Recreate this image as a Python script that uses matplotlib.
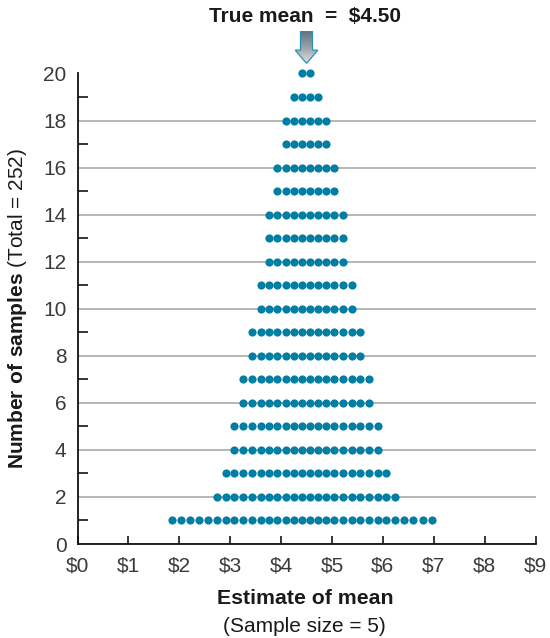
import matplotlib
matplotlib.use('Agg')
import matplotlib.pyplot as plt
import numpy as np
from matplotlib.patches import Polygon
from matplotlib.colors import LinearSegmentedColormap

# ---------------- data ----------------
col_x = [1.86, 2.04, 2.22, 2.39, 2.57, 2.75, 2.91, 3.07, 3.25, 3.43, 3.60,
         3.76, 3.93, 4.09, 4.26, 4.41, 4.56, 4.73, 4.89, 5.05, 5.22, 5.39,
         5.56, 5.73, 5.90, 6.07, 6.24, 6.41, 6.60, 6.79, 6.96]
col_counts = [1, 1, 1, 1, 1, 2, 3, 5, 7, 9, 11, 14, 16, 18, 19, 20, 20, 19,
              18, 16, 14, 11, 9, 7, 5, 3, 2, 1, 1, 1, 1]
x_ticks = [0, 1, 2, 3, 4, 5, 6, 7, 8, 9]
x_labels = ['\\$0', '\\$1', '\\$2', '\\$3', '\\$4', '\\$5', '\\$6', '\\$7', '\\$8', '\\$9']
y_ticks = [0, 2, 4, 6, 8, 10, 12, 14, 16, 18, 20]
y_minor = [1, 3, 5, 7, 9, 11, 13, 15, 17, 19]
true_mean = 4.5

dot_color = '#007ea3'

plt.rcParams['font.family'] = ['Liberation Sans', 'DejaVu Sans']
plt.rcParams['mathtext.fontset'] = 'custom'
plt.rcParams['mathtext.rm'] = 'Liberation Sans'
plt.rcParams['mathtext.bf'] = 'Liberation Sans:bold'

W, H = 550, 638
fig = plt.figure(figsize=(W / 100, H / 100), dpi=100)
L, R, T, B = 77.5, 535.5, 73.5, 544.0
ax = fig.add_axes([L / W, 1 - B / H, (R - L) / W, (B - T) / H])

xs, ys = [], []
for x, c in zip(col_x, col_counts):
    for k in range(1, c + 1):
        xs.append(x)
        ys.append(k)
ax.plot(xs, ys, 'o', ms=5.9, color=dot_color, mec='none', clip_on=False, zorder=3)

ax.set_xlim(0, 9)
ax.set_ylim(0, 20)
ax.set_xticks(x_ticks)
ax.set_xticklabels(x_labels)
ax.set_yticks(y_ticks)
ax.set_yticks(y_minor, minor=True)
ax.tick_params(axis='x', direction='in', length=6, width=1.1, pad=9,
               labelsize=15, labelcolor='#3a3a3a')
ax.tick_params(axis='y', which='major', length=0, pad=8, labelsize=15,
               labelcolor='#3a3a3a')
ax.tick_params(axis='y', which='minor', direction='in', length=7, width=1.1)
ax.grid(axis='y', which='major', color='#a9a9a9', lw=1.2)
ax.set_axisbelow(True)
for s in ['top', 'right']:
    ax.spines[s].set_visible(False)
for s in ['left', 'bottom']:
    ax.spines[s].set_linewidth(1.3)
    ax.spines[s].set_color('#111111')

# axis labels
axc = 1 - (T + B) / 2 / H
fig.text(18 / W, axc, r'$\bf{Number\ of\ samples}$ (Total = 252)', rotation=90,
         ha='center', va='center', fontsize=15, color='#1a1a1a')
fig.text((L + R) / 2 / W - 0.003, 1 - 599 / H, 'Estimate of mean', fontweight='bold',
         ha='center', va='center', fontsize=15.3, color='#1a1a1a')
fig.text((L + R) / 2 / W - 0.003, 1 - 626 / H, '(Sample size = 5)',
         ha='center', va='center', fontsize=15, color='#1a1a1a')

# title
fig.text(305 / W, 1 - 17 / H, 'True mean  =  \\$4.50', fontweight='bold',
         ha='center', va='center', fontsize=15, color='#1a1a1a')

# arrow pointing at the true mean
fig.canvas.draw()
px = ax.transData.transform((true_mean, 0))[0]
aw, ah = 24, 33  # px
aax = fig.add_axes([(px - aw / 2) / W, 1 - 64 / H, aw / W, ah / H])
aax.set_xlim(-1, 1)
aax.set_ylim(0, 1)
aax.axis('off')
poly = [(-0.5, 1.0), (0.5, 1.0), (0.5, 0.42), (0.95, 0.42), (0.0, 0.02),
        (-0.95, 0.42), (-0.5, 0.42)]
cmap = LinearSegmentedColormap.from_list('g', ['#e2e4e6', '#9aa3a8', '#5d7582'])
grad = np.linspace(1, 0, 100).reshape(-1, 1)
im = aax.imshow(grad, extent=(-1, 1, 0, 1), aspect='auto', cmap=cmap, origin='upper')
patch = Polygon(poly, closed=True, facecolor='none', edgecolor='#2f8fb0', lw=0.9)
aax.add_patch(patch)
im.set_clip_path(patch)

fig.savefig('out.png', dpi=100)
